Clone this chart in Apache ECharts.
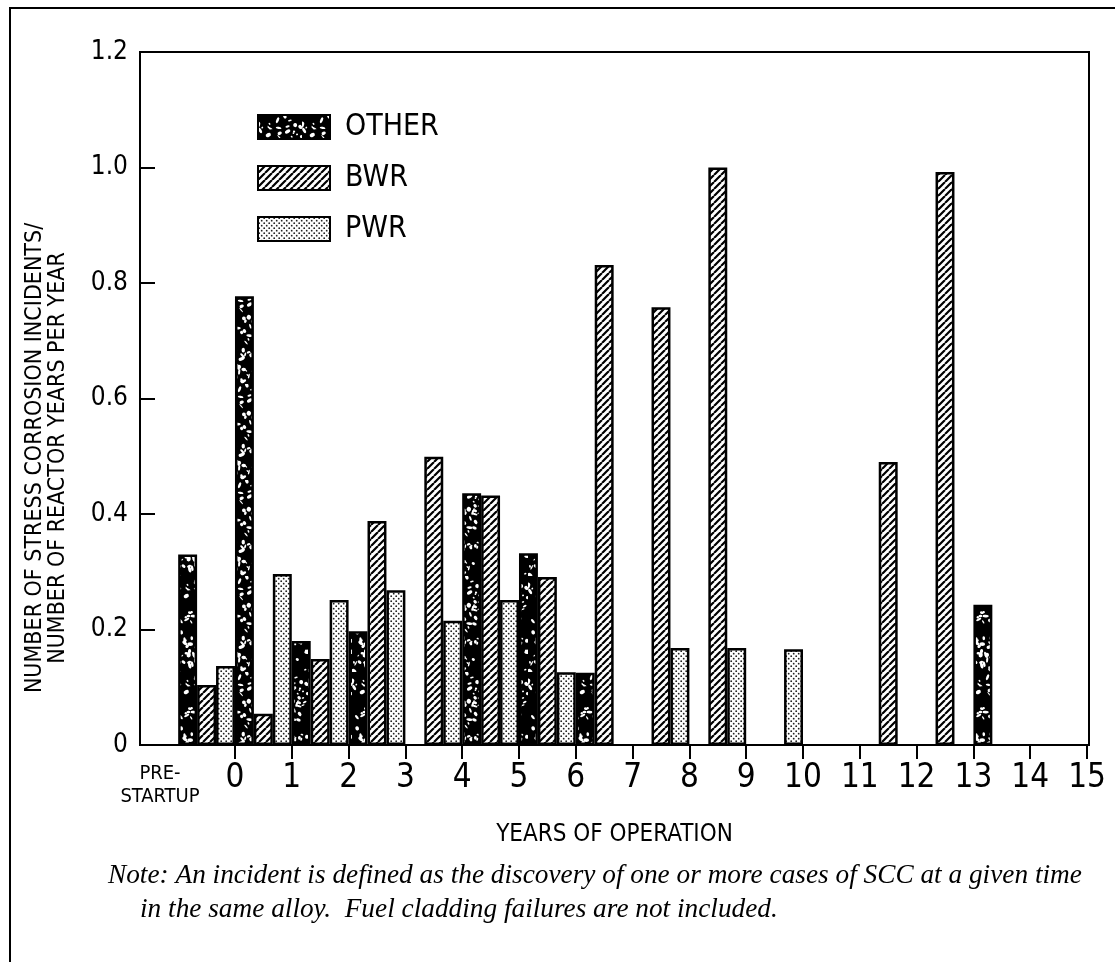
<!DOCTYPE html>
<html>
<head>
<meta charset="utf-8">
<script src="https://cdn.jsdelivr.net/npm/echarts@6/dist/echarts.min.js"></script>
<style>
html,body{margin:0;padding:0;background:#fff;}
#chart{width:1115px;height:962px;}
</style>
</head>
<body>
<div id="chart"></div>
<script>
// ---- data ----
// year index of each group: -1 = PRE-STARTUP, then years of operation 0..13
const years = [-1, 0, 1, 2, 3, 4, 5, 6, 7, 8, 9, 10, 11, 12, 13];
const otherVals = [0.33, 0.777, 0.18, 0.197, null, 0.436, 0.332, 0.125, null, null, null, null, null, null, 0.243];
const bwrVals   = [0.104, 0.054, 0.149, 0.388, 0.499, 0.432, 0.291, 0.831, 0.758, 1.0, null, null, 0.49, 0.992, null];
const pwrVals   = [0.137, 0.296, 0.251, 0.268, 0.215, 0.251, 0.126, null, 0.168, 0.168, 0.166, null, null, null, null];
const tickYears  = [0, 1, 2, 3, 4, 5, 6, 7, 8, 9, 10, 11, 12, 13, 14, 15];
const preLabelPos = -1.32;   // where the PRE-STARTUP label sits on the year scale
const preLabelLines = ['PRE-', 'STARTUP'];
const seriesNames = ['OTHER', 'BWR', 'PWR'];
const yAxisTitle = 'NUMBER OF STRESS CORROSION INCIDENTS/\nNUMBER OF REACTOR YEARS PER YEAR';
const xAxisTitle = 'YEARS OF OPERATION';
const noteLine1 = 'Note: An incident is defined as the discovery of one or more cases of SCC at a given time';
const noteLine2 = 'in the same alloy.  Fuel cladding failures are not included.';

// ---- textures ----
const NARROW = "'Liberation Sans Narrow','Arial Narrow','DejaVu Sans Condensed','Liberation Sans',sans-serif";

function hatchPattern() {
  const s = 7, c = document.createElement('canvas');
  c.width = s; c.height = s;
  const g = c.getContext('2d');
  g.fillStyle = '#fff'; g.fillRect(0, 0, s, s);
  g.strokeStyle = '#000'; g.lineWidth = 2.2;
  g.beginPath();
  for (const k of [-s, 0, s]) { g.moveTo(k, s); g.lineTo(k + s, 0); }
  g.stroke();
  return c;
}
function dotPattern() {
  const s = 5, c = document.createElement('canvas');
  c.width = s; c.height = s;
  const g = c.getContext('2d');
  g.fillStyle = '#fff'; g.fillRect(0, 0, s, s);
  g.fillStyle = '#222';
  [[1.2, 1.2], [3.7, 3.7]].forEach(p => { g.beginPath(); g.arc(p[0], p[1], 0.9, 0, Math.PI * 2); g.fill(); });
  return c;
}
function specklePattern() {
  const w = 44, h = 96, c = document.createElement('canvas');
  c.width = w; c.height = h;
  const g = c.getContext('2d');
  g.fillStyle = '#000'; g.fillRect(0, 0, w, h);
  let seed = 12345;
  const rnd = () => { seed = (seed * 1103515245 + 12345) % 2147483648; return seed / 2147483648; };
  g.fillStyle = '#fff';
  for (let i = 0; i < 95; i++) {
    const x = rnd() * w, y = rnd() * h;
    const rx = 0.7 + rnd() * 2.6, ry = 0.6 + rnd() * 1.6, r = rnd() * Math.PI;
    g.beginPath(); g.ellipse(x, y, rx, ry, r, 0, Math.PI * 2); g.fill();
  }
  return c;
}
const fills = [
  { image: specklePattern(), repeat: 'repeat' },
  { image: hatchPattern(), repeat: 'repeat' },
  { image: dotPattern(), repeat: 'repeat' }
];

function toData(vals) {
  const out = [];
  years.forEach((yr, i) => { if (vals[i] != null) out.push([yr + 0.5, vals[i]]); });
  return out;
}

const chart = echarts.init(document.getElementById('chart'), null, { renderer: 'canvas' });

const valueSets = [otherVals, bwrVals, pwrVals];
const series = seriesNames.map((name, i) => ({
  name: name,
  type: 'bar',
  data: toData(valueSets[i]),
  barGap: '0%',
  barCategoryGap: '0%',
  itemStyle: { color: fills[i], borderColor: '#000', borderWidth: 2.5 },
  emphasis: { disabled: true },
  animation: false
}));

const option = {
  backgroundColor: '#fff',
  animation: false,
  grid: { left: 140, right: 26, top: 52, bottom: 217, show: true, borderColor: '#000', borderWidth: 2 },
  legend: {
    data: seriesNames,
    orient: 'vertical',
    left: 257, top: 112,
    itemWidth: 72, itemHeight: 24, itemGap: 21,
    icon: 'rect',
    selectedMode: false,
    padding: 0,
    textStyle: { fontFamily: NARROW, fontSize: 30, lineHeight: 24, color: '#000', padding: [0, 0, 0, 10] }
  },
  xAxis: {
    type: 'value',
    min: -1.672, max: 15.035,
    name: xAxisTitle,
    nameLocation: 'middle',
    nameGap: 78,
    nameTextStyle: { fontFamily: NARROW, fontSize: 24, color: '#000' },
    axisLine: { onZero: false, lineStyle: { color: '#000', width: 2 } },
    axisTick: { show: true, customValues: tickYears, length: 14, lineStyle: { color: '#000', width: 2 } },
    axisLabel: {
      customValues: [preLabelPos].concat(tickYears),
      hideOverlap: false,
      margin: 17,
      fontFamily: NARROW, fontSize: 33, color: '#000',
      formatter: v => v === preLabelPos ? preLabelLines.map(s => '{pre|' + s + '}').join('\n') : String(v),
      rich: { pre: { fontFamily: NARROW, fontSize: 20, lineHeight: 23, color: '#000', align: 'center' } }
    },
    splitLine: { show: false }
  },
  yAxis: {
    type: 'value',
    min: 0, max: 1.2, interval: 0.2,
    axisLine: { show: true, onZero: false, lineStyle: { color: '#000', width: 2 } },
    axisTick: { show: true, inside: true, length: 15, lineStyle: { color: '#000', width: 2 } },
    axisLabel: {
      margin: 12, fontFamily: NARROW, fontSize: 26, color: '#000',
      formatter: v => v === 0 ? '0' : v.toFixed(1)
    },
    splitLine: { show: false }
  },
  graphic: [
    { type: 'polyline', shape: { points: [[10, 962], [10, 8], [1115, 8]] }, style: { stroke: '#000', lineWidth: 2, fill: null }, silent: true },
    { type: 'text', x: 47, y: 458, rotation: Math.PI / 2,
      style: { text: yAxisTitle, fontFamily: NARROW, fontSize: 23, lineHeight: 23, align: 'center', verticalAlign: 'middle', fill: '#000' } },
    { type: 'text', x: 108, y: 876,
      style: { text: noteLine1, fontFamily: "'Liberation Serif',serif", fontStyle: 'italic', fontSize: 27.3, align: 'left', verticalAlign: 'middle', fill: '#000' } },
    { type: 'text', x: 140, y: 910,
      style: { text: noteLine2, fontFamily: "'Liberation Serif',serif", fontStyle: 'italic', fontSize: 27.3, align: 'left', verticalAlign: 'middle', fill: '#000' } }
  ],
  series: series
};
chart.setOption(option);
</script>
</body>
</html>
